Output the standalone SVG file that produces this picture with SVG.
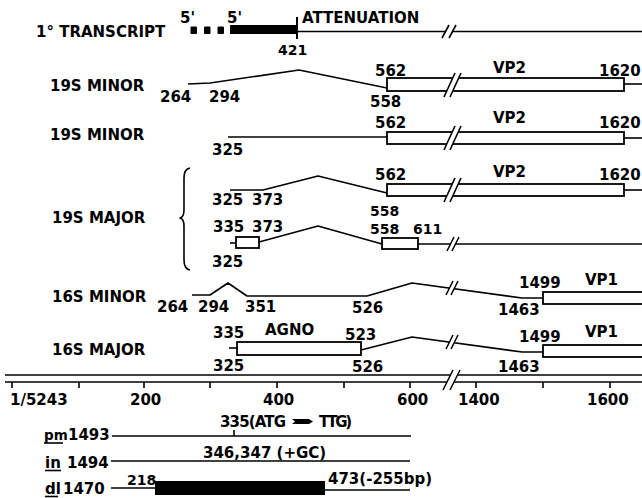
<svg xmlns="http://www.w3.org/2000/svg" width="642" height="498" viewBox="0 0 642 498">
<style>
text{font-family:"DejaVu Sans","Liberation Sans",sans-serif;font-weight:bold;font-size:15px;fill:#000}
.sm{font-size:14px}
.ln{fill:none;stroke:#000;stroke-width:1.6;stroke-linejoin:round}
.bx{fill:#fff;stroke:#000;stroke-width:1.8}
.gap{fill:#fff;stroke:none}
.sl{stroke:#000;stroke-width:1.6;fill:none}
</style>
<rect width="642" height="498" fill="#fff"/>

<g id="transcript">
<text x="36" y="37">1° TRANSCRIPT</text>
<text x="180" y="23">5'</text>
<text x="227" y="23">5'</text>
<rect x="190.5" y="26.5" width="6.5" height="7.5" rx="1"/>
<rect x="204" y="26.5" width="6.5" height="7.5" rx="1"/>
<rect x="217.5" y="26.5" width="6.5" height="7.5" rx="1"/>
<rect x="230" y="25" width="67" height="9"/>
<line class="sl" x1="297" y1="17" x2="297" y2="39" style="stroke-width:2"/>
<line class="ln" x1="297" y1="31.5" x2="642" y2="31.5"/>
<polygon class="gap" points="442,38 449,25 456,25 449,38"/>
<line class="sl" x1="442" y1="38" x2="449" y2="25"/>
<line class="sl" x1="449" y1="38" x2="456" y2="25"/>
<text x="302" y="23">ATTENUATION</text>
<text x="278" y="55" class="sm">421</text>
</g>

<g id="r19s-minor-a">
<text x="50" y="91">19S MINOR</text>
<polyline class="ln" points="188,84 210,83 299,70 387,88"/>
<rect class="bx" x="387" y="78" width="237" height="13"/>
<line class="ln" x1="624" y1="84" x2="642" y2="84"/>
<polygon class="gap" points="444,97 455,73 461,73 450,97"/>
<line class="sl" x1="444" y1="97" x2="455" y2="73"/>
<line class="sl" x1="450" y1="97" x2="461" y2="73"/>
<text x="160" y="102">264</text>
<text x="209" y="102">294</text>
<text x="375" y="76">562</text>
<text x="493" y="73">VP2</text>
<text x="599" y="76">1620</text>
<text x="370" y="107">558</text>
</g>

<g id="r19s-minor-b">
<text x="50" y="140">19S MINOR</text>
<line class="ln" x1="228" y1="137" x2="387" y2="137"/>
<rect class="bx" x="387" y="132" width="237" height="12"/>
<line class="ln" x1="624" y1="138" x2="642" y2="138"/>
<polygon class="gap" points="444,150 455,126 461,126 450,150"/>
<line class="sl" x1="444" y1="150" x2="455" y2="126"/>
<line class="sl" x1="450" y1="150" x2="461" y2="126"/>
<text x="212" y="155">325</text>
<text x="375" y="128">562</text>
<text x="493" y="123">VP2</text>
<text x="599" y="128">1620</text>
</g>

<g id="r19s-major">
<text x="52" y="223">19S MAJOR</text>
<path class="ln" d="M190,168 Q184,169 184,178 L184,210 Q184,217 180,218 Q184,219 184,226 L184,260 Q184,269 190,270"/>
<polyline class="ln" points="230,190 263,190 318,176 387,193"/>
<rect class="bx" x="387" y="184" width="237" height="12"/>
<line class="ln" x1="624" y1="190" x2="642" y2="190"/>
<polygon class="gap" points="444,202 455,178 461,178 450,202"/>
<line class="sl" x1="444" y1="202" x2="455" y2="178"/>
<line class="sl" x1="450" y1="202" x2="461" y2="178"/>
<text x="212" y="205">325</text>
<text x="252" y="205">373</text>
<text x="375" y="180">562</text>
<text x="493" y="177">VP2</text>
<text x="599" y="180">1620</text>
<text x="370" y="216" class="sm">558</text>

<line class="ln" x1="230" y1="243" x2="236" y2="243"/>
<rect class="bx" x="236" y="237" width="23" height="11"/>
<polyline class="ln" points="259,242 318,226 382,244"/>
<rect class="bx" x="382" y="238" width="36" height="11"/>
<line class="ln" x1="418" y1="244" x2="642" y2="244"/>
<polygon class="gap" points="447,251 454,237 459,237 452,251"/>
<line class="sl" x1="447" y1="251" x2="454" y2="237"/>
<line class="sl" x1="452" y1="251" x2="459" y2="237"/>
<text x="213" y="232">335</text>
<text x="252" y="232">373</text>
<text x="370" y="234" class="sm">558</text>
<text x="413" y="234" class="sm">611</text>
<text x="212" y="267">325</text>
</g>

<g id="r16s-minor">
<text x="52" y="302">16S MINOR</text>
<polyline class="ln" points="192,295 210,295 228,283 247,296 367,296 412,283 522,298 543,298"/>
<rect class="bx" x="543" y="292" width="105" height="12"/>
<polygon class="gap" points="446,295 453,281 458,281 451,295"/>
<line class="sl" x1="446" y1="295" x2="453" y2="281"/>
<line class="sl" x1="451" y1="295" x2="458" y2="281"/>
<text x="157" y="312">264</text>
<text x="198" y="312">294</text>
<text x="245" y="312">351</text>
<text x="352" y="313">526</text>
<text x="519" y="288">1499</text>
<text x="585" y="285">VP1</text>
<text x="498" y="315">1463</text>
</g>

<g id="r16s-major">
<text x="52" y="355">16S MAJOR</text>
<line class="ln" x1="229" y1="348" x2="237" y2="348"/>
<rect class="bx" x="237" y="342" width="124" height="13"/>
<polyline class="ln" points="361,350 412,337 522,352 543,352"/>
<rect class="bx" x="543" y="345" width="105" height="12"/>
<polygon class="gap" points="446,349 453,335 458,335 451,349"/>
<line class="sl" x1="446" y1="349" x2="453" y2="335"/>
<line class="sl" x1="451" y1="349" x2="458" y2="335"/>
<text x="213" y="338">335</text>
<text x="265" y="335">AGNO</text>
<text x="213" y="371">325</text>
<text x="345" y="340">523</text>
<text x="352" y="372">526</text>
<text x="519" y="342">1499</text>
<text x="585" y="337">VP1</text>
<text x="498" y="372">1463</text>
</g>

<g id="axis">
<line class="ln" x1="5" y1="375" x2="642" y2="375"/>
<line class="ln" x1="5" y1="382" x2="642" y2="382"/>
<polygon class="gap" points="443,390 453,370 460,370 450,390"/>
<line class="sl" x1="443" y1="390" x2="453" y2="370"/>
<line class="sl" x1="450" y1="390" x2="460" y2="370"/>
<path class="ln" d="M12,382v6M79,382v6M144,382v6M210,382v6M277,382v6M344,382v6M410,382v6M476,382v6M543,382v6M610,382v6"/>
<text x="10" y="405">1/5243</text>
<text x="130" y="405">200</text>
<text x="263" y="405">400</text>
<text x="397" y="405">600</text>
<text x="458" y="405">1400</text>
<text x="587" y="405">1600</text>
</g>

<g id="pm1493">
<text x="220" y="427" textLength="66">335(ATG</text>
<polygon points="292,419 309,419 313,421.5 309,424 292,424 295,421.5"/>
<text x="319" y="427" textLength="33">TTG)</text>
<text x="44" y="440" style="font-size:13.5px">pm</text>
<line class="ln" x1="44" y1="443" x2="63" y2="443"/>
<text x="68" y="440">1493</text>
<line class="ln" x1="112" y1="436" x2="411" y2="436"/>
<line class="ln" x1="234" y1="430" x2="234" y2="436"/>
</g>

<g id="in1494">
<text x="203" y="458">346,347 (+GC)</text>
<text x="45" y="468">in</text>
<line class="ln" x1="45" y1="470.5" x2="61" y2="470.5"/>
<text x="67" y="468">1494</text>
<line class="ln" x1="111" y1="461" x2="410" y2="461"/>
</g>

<g id="dl1470">
<text x="45" y="494">dl</text>
<line class="ln" x1="45" y1="496.5" x2="58" y2="496.5"/>
<text x="63" y="494">1470</text>
<line class="ln" x1="111" y1="488" x2="155" y2="488"/>
<text x="127" y="485" class="sm">218</text>
<rect x="155" y="481" width="170" height="14"/>
<line class="ln" x1="325" y1="490" x2="410" y2="490"/>
<text x="328" y="484">473(-255bp)</text>
</g>
</svg>
